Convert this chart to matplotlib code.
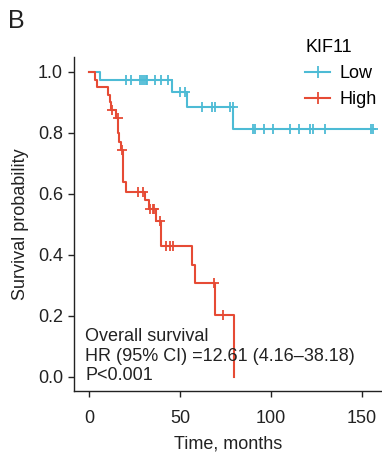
import numpy as np
import matplotlib.pyplot as plt
from matplotlib.lines import Line2D

plt.rcParams['font.family'] = ['Liberation Sans', 'DejaVu Sans']
plt.rcParams['font.size'] = 13

# Kaplan-Meier steps (time in months, survival)
low_times = [0, 6, 45.4, 53.7, 79.3, 156]
low_surv = [1.0, 0.974, 0.933, 0.886, 0.813, 0.813]
low_censor = [20.2, 23, 28, 29, 30.2, 31.3, 32, 36.3, 39.6, 43.4,
              50, 52.7, 62, 67.4, 69.2, 77.5, 79,
              90.3, 91.2, 96.2, 101.3, 110.4, 115.5, 121.4, 122.9, 129.7, 154.8, 155.9]

high_times = [0, 3.5, 4.5, 10.5, 11.5, 12, 15, 16.2, 16.6, 17.5, 18.7, 20.5,
              30.8, 33, 37, 39.6, 56.4, 58.2, 69.2, 79.8]
high_surv = [1.0, 0.975, 0.95, 0.925, 0.90, 0.875, 0.85, 0.80, 0.77, 0.745, 0.64, 0.607,
             0.58, 0.55, 0.51, 0.43, 0.367, 0.307, 0.203, 0.0]
high_censor = [12.5, 16, 18.3, 27, 29.5, 33.5, 35, 36, 39, 42.6, 44.5, 46.3, 68.8, 73.4]

groups = ["Low", "High"]
colors = ["#4DBBD5", "#E64B35"]


def surv_at(times, surv, t):
    idx = np.searchsorted(times, t, side='right') - 1
    return np.asarray(surv)[idx]


fig = plt.figure(figsize=(3.82, 4.59), dpi=100)
ax = fig.add_axes([74/382, 68/459, 308/382, 334/459])

for times, surv, cens, col in [(low_times, low_surv, low_censor, colors[0]),
                               (high_times, high_surv, high_censor, colors[1])]:
    ax.step(times, surv, where='post', color=col, lw=1.5)
    ax.plot(cens, surv_at(times, surv, cens), ls='none', marker='+',
            ms=7, mew=1.3, color=col)

ax.set_xlim(-8.2, 161)
ax.set_ylim(-0.046, 1.049)
ax.set_xticks([0, 50, 100, 150])
ax.set_yticks(np.arange(0, 1.01, 0.2))
ax.set_yticklabels(["%.1f" % v for v in np.arange(0, 1.01, 0.2)])
for s in ['top', 'right']:
    ax.spines[s].set_visible(False)
for s in ['left', 'bottom']:
    ax.spines[s].set_color('#222222')
    ax.spines[s].set_linewidth(1.0)
ax.tick_params(axis='both', length=4.5, width=1.0, color='#222222', labelcolor='#222222')
ax.tick_params(axis='x', pad=9)
ax.tick_params(axis='y', pad=3.5)
ax.set_xlabel("Time, months", color='#222222', labelpad=6.5)
ax.set_ylabel("Survival probability", color='#222222', labelpad=6)

ax.text(0.036, 0.02, "Overall survival\nHR (95% CI) =12.61 (4.16\u201338.18)\nP<0.001",
        transform=ax.transAxes, ha='left', va='bottom', color='#222222', linespacing=1.2)

handles = [Line2D([], [], color=c, lw=1.5, marker='+', ms=9, mew=1.3) for c in colors]
fig.legend(handles, groups, title="KIF11", loc='upper left',
           bbox_to_anchor=(296/382, 1 - 30/459), frameon=False, alignment='left',
           borderpad=0, handlelength=1.4, handletextpad=0.5, labelspacing=0.5)

fig.text(8/382, 1 - 28/459, "B", fontsize=18, color='#222222')

fig.savefig("out.png", dpi=100)
